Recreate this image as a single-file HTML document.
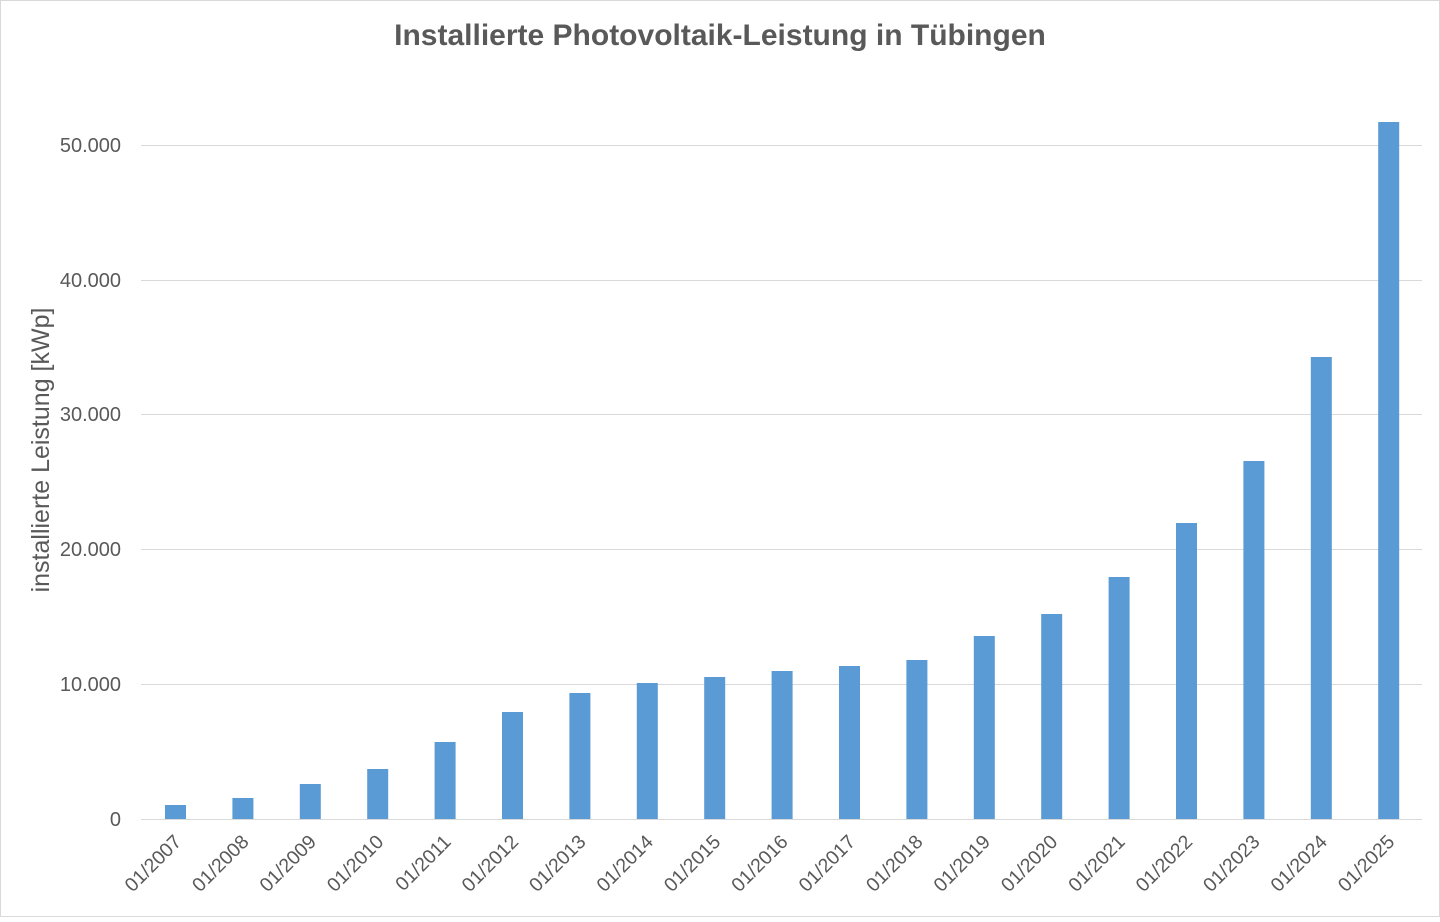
<!DOCTYPE html>
<html><head><meta charset="utf-8"><style>html,body{margin:0;padding:0;background:#fff}</style></head>
<body>
<svg width="1440" height="917" xmlns="http://www.w3.org/2000/svg" font-family="'Liberation Sans', sans-serif">
<rect x="0.5" y="0.5" width="1439" height="916" fill="#fff" stroke="#d9d9d9"/>
<text x="720" y="45" text-anchor="middle" font-size="30" font-weight="bold" fill="#595959">Installierte Photovoltaik-Leistung in Tübingen</text>
<g stroke="#d9d9d9" stroke-width="1">
<line x1="141" x2="1422" y1="145.5" y2="145.5"/>
<line x1="141" x2="1422" y1="280.5" y2="280.5"/>
<line x1="141" x2="1422" y1="414.5" y2="414.5"/>
<line x1="141" x2="1422" y1="549.5" y2="549.5"/>
<line x1="141" x2="1422" y1="684.5" y2="684.5"/>
<line x1="141" x2="1422" y1="819.5" y2="819.5"/>
</g>
<g font-size="20" fill="#595959" text-anchor="end">
<text x="121" y="152">50.000</text>
<text x="121" y="287">40.000</text>
<text x="121" y="421">30.000</text>
<text x="121" y="556">20.000</text>
<text x="121" y="691">10.000</text>
<text x="121" y="826">0</text>
</g>
<text transform="translate(49,450) rotate(-90)" text-anchor="middle" font-size="25" fill="#595959">installierte Leistung [kWp]</text>
<g fill="#5b9bd5" id="bars"></g>
<g id="labels" font-size="19.5" fill="#595959" text-anchor="end"></g>
<script>
var tops=[805,798,784,769,742,712,693,683,677,671,666,660,636,614,577,523,461,357,122];
var b=document.getElementById('bars'),l=document.getElementById('labels'),ns='http://www.w3.org/2000/svg';
for(var i=0;i<19;i++){var c=175.5+i*67.4;
var r=document.createElementNS(ns,'rect');r.setAttribute('x',c-10.5);r.setAttribute('y',tops[i]);r.setAttribute('width',21);r.setAttribute('height',819-tops[i]);b.appendChild(r);
var t=document.createElementNS(ns,'text');t.setAttribute('transform','translate('+(c+7)+',843) rotate(-45)');t.textContent='01/'+(2007+i);l.appendChild(t);}
</script>
</svg>
</body></html>
